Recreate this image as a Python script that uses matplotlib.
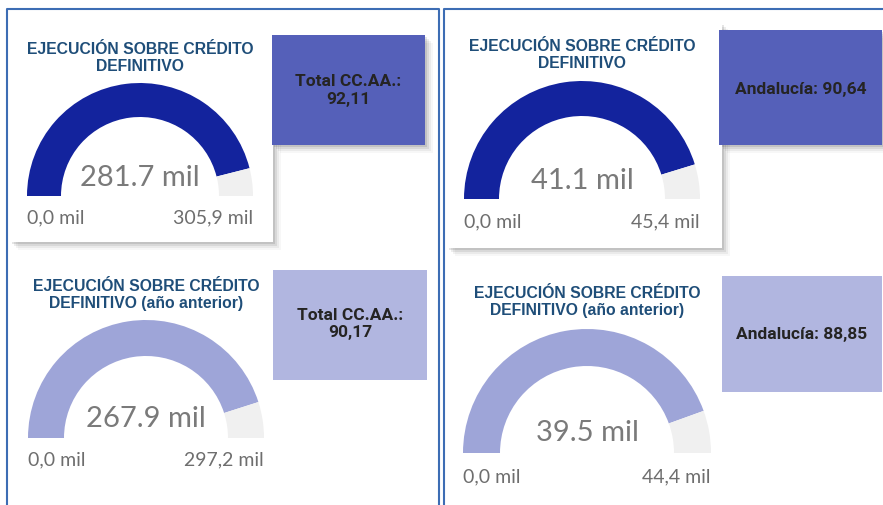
import matplotlib.pyplot as plt
from matplotlib.patches import Wedge, Rectangle

# gauge data (mil)
gauge_values = [281.7, 41.1, 267.9, 39.5]
gauge_max = [305.9, 45.4, 297.2, 44.4]
gauge_min = [0.0, 0.0, 0.0, 0.0]
value_labels = ['281.7 mil', '41.1 mil', '267.9 mil', '39.5 mil']
min_labels = ['0,0 mil', '0,0 mil', '0,0 mil', '0,0 mil']
max_labels = ['305,9 mil', '45,4 mil', '297,2 mil', '44,4 mil']
titles = ['EJECUCIÓN SOBRE CRÉDITO\nDEFINITIVO',
          'EJECUCIÓN SOBRE CRÉDITO\nDEFINITIVO',
          'EJECUCIÓN SOBRE CRÉDITO\nDEFINITIVO (año anterior)',
          'EJECUCIÓN SOBRE CRÉDITO\nDEFINITIVO (año anterior)']
kpi_texts = ['Total CC.AA.:\n92,11', 'Andalucía: 90,64',
             'Total CC.AA.:\n90,17', 'Andalucía: 88,85']

dark = '#13239d'
light = '#9ea5d8'
kpi_dark = '#5560b9'
kpi_light = '#b1b6e0'
track = '#f0f0f0'
title_col = '#1f4e79'

# layout (pixels): gauge centre x, baseline y, outer radius, thickness
gauges = [(140, 197, 113, 34), (582, 200, 118, 35),
          (146, 439, 118, 36), (587, 454, 124, 37)]
title_xy = [(140, 58), (582, 55), (146, 295), (587, 302)]
value_y = [178, 181, 419, 433]
label_y = [218, 222, 460, 477]
kpi_rects = [(272, 36, 153, 110), (719, 31, 163, 115),
             (273, 271, 154, 110), (722, 277, 160, 116)]
kpi_text_y = [90, 89, 324, 335]
kpi_cols = [kpi_dark, kpi_dark, kpi_light, kpi_light]
gauge_cols = [dark, dark, light, light]

fig = plt.figure(figsize=(8.83, 5.06), dpi=100)
ax = fig.add_axes([0, 0, 1, 1])
ax.set_xlim(0, 883)
ax.set_ylim(506, 0)
ax.axis('off')

# panel borders
border = '#3d6db4'
ax.plot([7, 7, 439, 439], [506, 10, 10, 506], color=border, lw=1.5)
ax.plot([444, 444, 883], [506, 10, 10], color=border, lw=1.5)


def shadow(x, y, w, h):
    for i, a in enumerate([0.10, 0.07, 0.05, 0.03]):
        ax.add_patch(Rectangle((x + 2 + i * 2, y + 2 + i * 2), w, h,
                               color='black', alpha=a, lw=0, zorder=1))


# top cards with shadows
shadow(10, 35, 263, 208)
ax.add_patch(Rectangle((10, 35), 263, 208, color='white', lw=0, zorder=2))
shadow(447, 24, 275, 225)
ax.add_patch(Rectangle((447, 24), 275, 225, color='white', lw=0, zorder=2))

for i in range(4):
    cx, cy, r, w = gauges[i]
    frac = (gauge_values[i] - gauge_min[i]) / (gauge_max[i] - gauge_min[i])
    end = 180 + 180 * frac
    ax.add_patch(Wedge((cx, cy), r, 180, end, width=w, color=gauge_cols[i], lw=0, zorder=3))
    ax.add_patch(Wedge((cx, cy), r, end, 360, width=w, color=track, lw=0, zorder=3))
    ax.text(title_xy[i][0], title_xy[i][1], titles[i], ha='center', va='center',
            fontsize=11.3, fontweight='bold', color=title_col, family='Liberation Sans',
            linespacing=1.2, zorder=4)
    ax.text(cx, value_y[i], value_labels[i], ha='center', va='center', fontsize=21,
            color='#7a7a7a', family='Lato', zorder=4)
    ax.text(cx - r, label_y[i], min_labels[i], ha='left', va='center', fontsize=14,
            color='#6e6e6e', family='Lato', zorder=4)
    ax.text(cx + r, label_y[i], max_labels[i], ha='right', va='center', fontsize=14,
            color='#6e6e6e', family='Lato', zorder=4)

    x, y, kw, kh = kpi_rects[i]
    if i < 2:
        shadow(x, y, kw, kh)
    ax.add_patch(Rectangle((x, y), kw, kh, color=kpi_cols[i], lw=0, zorder=3))
    ax.text(x + kw / 2, kpi_text_y[i], kpi_texts[i], ha='center',
            va='center', fontsize=12.5, fontweight='bold', color='#252423',
            family='Roboto', linespacing=1.25, zorder=4)

fig.savefig('out.png', dpi=100)
